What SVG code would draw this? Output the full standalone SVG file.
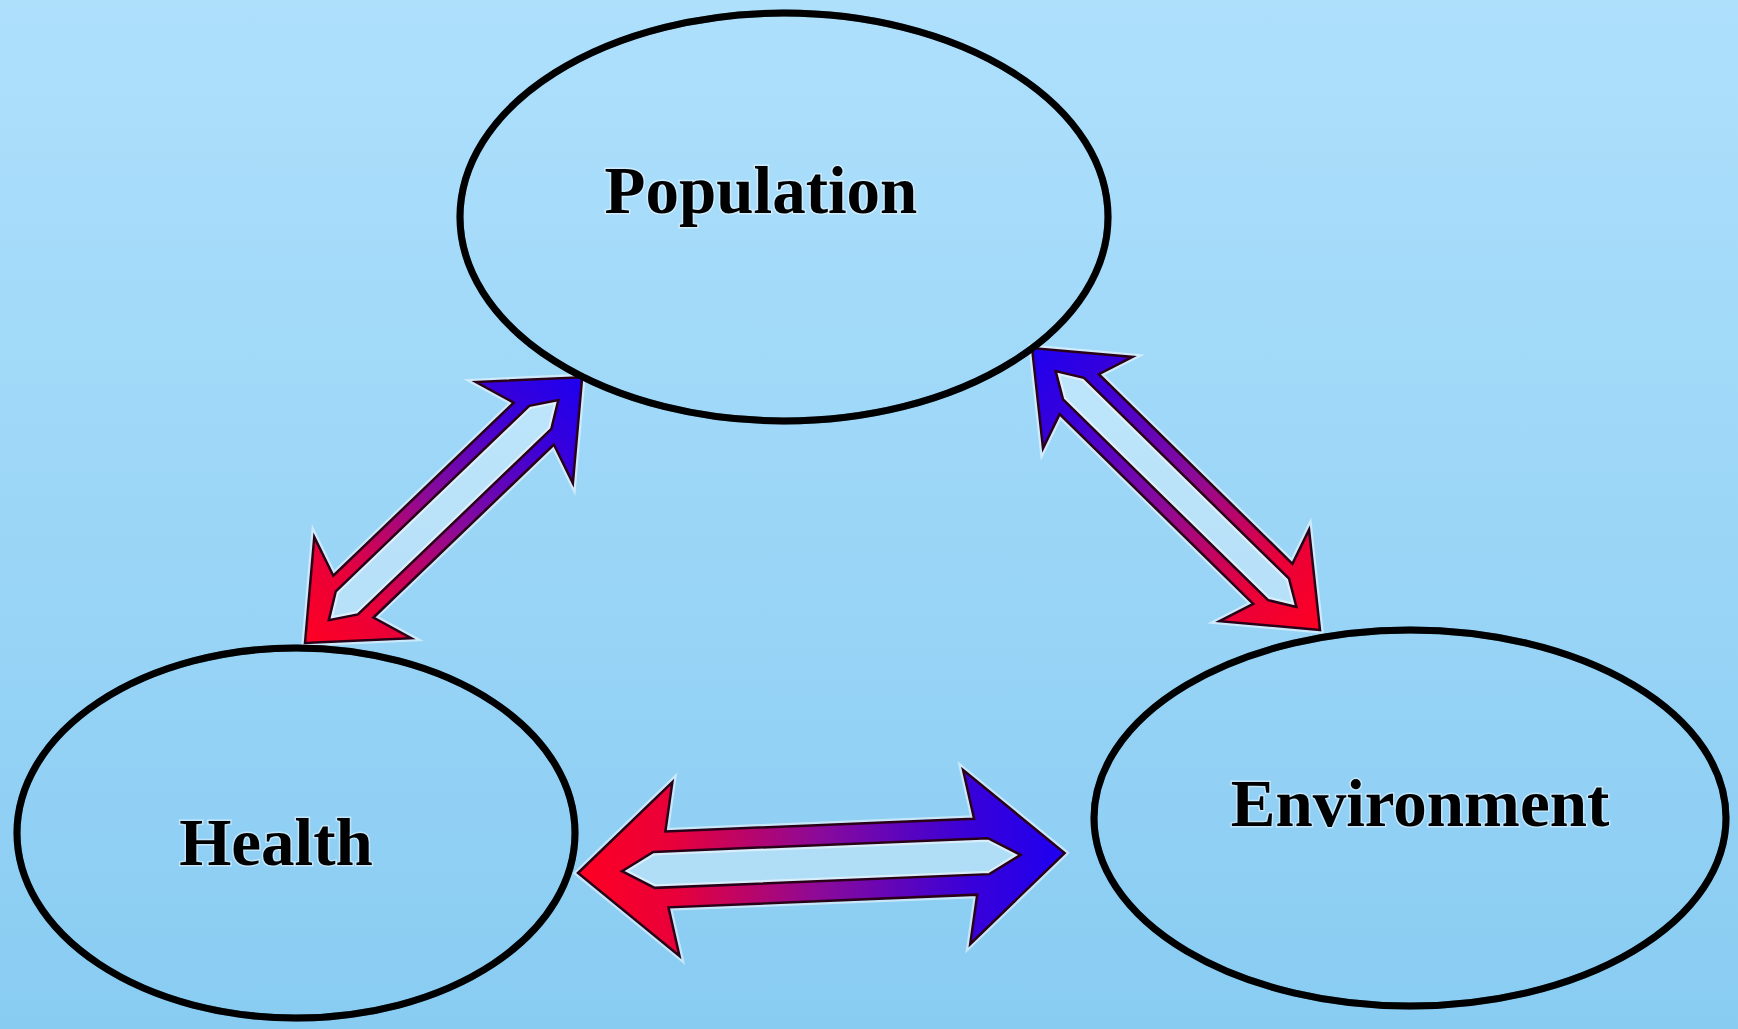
<svg xmlns="http://www.w3.org/2000/svg" width="1738" height="1029" viewBox="0 0 1738 1029">
<defs>
<linearGradient id="bg" x1="0" y1="0" x2="0" y2="1">
<stop offset="0" stop-color="#AEE0FC"/>
<stop offset="1" stop-color="#89CCF2"/>
</linearGradient>
<linearGradient id="rb" x1="0" y1="0" x2="1" y2="0">
<stop offset="0" stop-color="#FF0022"/>
<stop offset="0.2" stop-color="#E8003A"/>
<stop offset="0.5" stop-color="#8A0A9A"/>
<stop offset="0.8" stop-color="#3A00D8"/>
<stop offset="1" stop-color="#1E00F0"/>
</linearGradient>
<style>
.node ellipse{fill:none;stroke:#000;stroke-width:7}
.halo{fill:none;stroke:#ffffff;stroke-opacity:0.35;stroke-width:12}
.lbl{font-family:"Liberation Serif","Times New Roman",serif;font-weight:bold;font-size:67px;fill:#000;text-anchor:middle;stroke:#ffffff;stroke-opacity:0.45;stroke-width:3;paint-order:stroke}
.arr{fill:url(#rb);fill-rule:evenodd;stroke:#2a0018;stroke-width:2.5;stroke-linejoin:miter}
.arrhalo{fill:none;stroke:#ffffff;stroke-opacity:0.5;stroke-width:7;stroke-linejoin:miter}
.hole{fill:#ffffff;fill-opacity:0.3;stroke:none}
</style>
</defs>
<rect x="0" y="0" width="1738" height="1029" fill="url(#bg)"/>
<g id="connectors">
<g id="arrow-health-population" transform="translate(305,643) rotate(-43.8)">
<path class="arrhalo" d="M0,0 L80,-70 L67,-29 L317,-29 L304,-70 L384,0 L304,70 L317,29 L67,29 L80,70 Z M33,0 L58,-16 L326,-16 L351,0 L326,16 L58,16 Z"/>
<path class="hole" d="M33,0 L58,-16 L326,-16 L351,0 L326,16 L58,16 Z"/>
<path class="arr" d="M0,0 L80,-70 L67,-29 L317,-29 L304,-70 L384,0 L304,70 L317,29 L67,29 L80,70 Z M33,0 L58,-16 L326,-16 L351,0 L326,16 L58,16 Z"/>
</g>
<g id="arrow-environment-population" transform="translate(1320,630) rotate(-135.6)">
<path class="arrhalo" d="M0,0 L78,-64 L66,-28 L337,-28 L325,-64 L403,0 L325,64 L337,28 L66,28 L78,64 Z M33,0 L58,-15 L345,-15 L370,0 L345,15 L58,15 Z"/>
<path class="hole" d="M33,0 L58,-15 L345,-15 L370,0 L345,15 L58,15 Z"/>
<path class="arr" d="M0,0 L78,-64 L66,-28 L337,-28 L325,-64 L403,0 L325,64 L337,28 L66,28 L78,64 Z M33,0 L58,-15 L345,-15 L370,0 L345,15 L58,15 Z"/>
</g>
<g id="arrow-health-environment" transform="translate(578,873) rotate(-2.35)">
<path class="arrhalo" d="M0,0 L98,-87 L89,-38 L398,-38 L389,-87 L487,0 L389,87 L398,38 L89,38 L98,87 Z M44,0 L76,-18 L411,-18 L443,0 L411,18 L76,18 Z"/>
<path class="hole" d="M44,0 L76,-18 L411,-18 L443,0 L411,18 L76,18 Z"/>
<path class="arr" d="M0,0 L98,-87 L89,-38 L398,-38 L389,-87 L487,0 L389,87 L398,38 L89,38 L98,87 Z M44,0 L76,-18 L411,-18 L443,0 L411,18 L76,18 Z"/>
</g>
</g>
<g id="node-population" class="node">
<ellipse class="halo" cx="784" cy="217" rx="324" ry="204"/>
<ellipse cx="784" cy="217" rx="324" ry="204"/>
<text class="lbl" x="761" y="213">Population</text>
</g>
<g id="node-health" class="node">
<ellipse class="halo" cx="296" cy="833" rx="279" ry="185"/>
<ellipse cx="296" cy="833" rx="279" ry="185"/>
<text class="lbl" x="276" y="865">Health</text>
</g>
<g id="node-environment" class="node">
<ellipse class="halo" cx="1410" cy="818" rx="316" ry="188"/>
<ellipse cx="1410" cy="818" rx="316" ry="188"/>
<text class="lbl" x="1420" y="826">Environment</text>
</g>
</svg>
